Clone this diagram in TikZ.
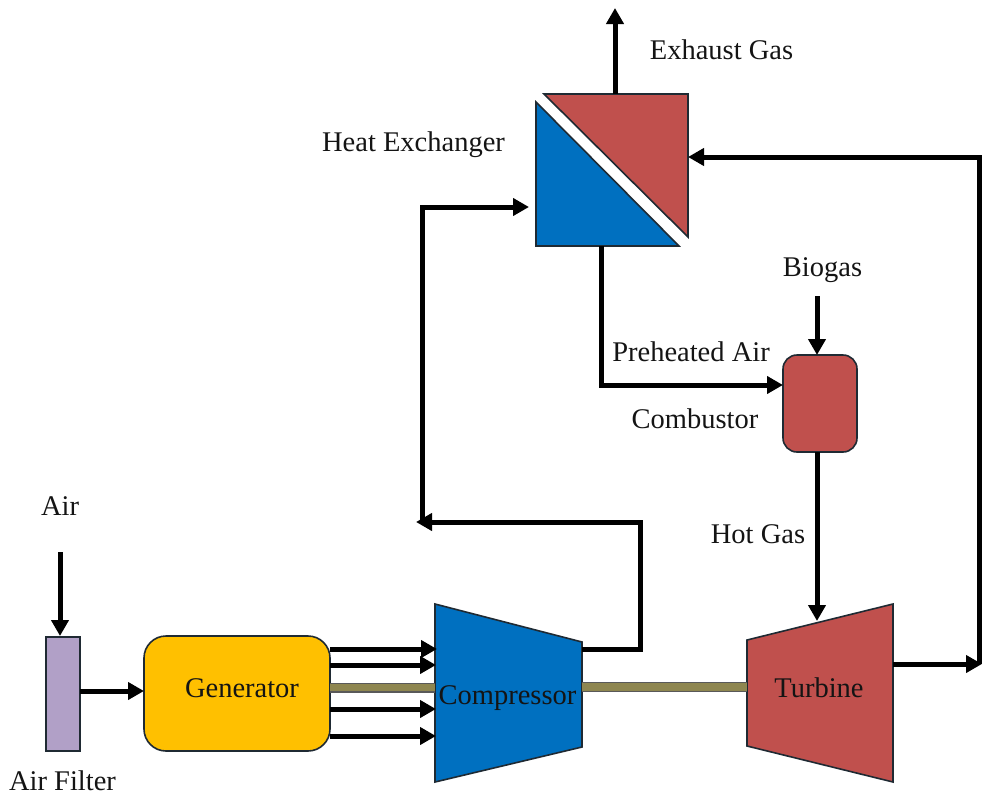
\documentclass[tikz,border=0pt]{standalone}
\usepackage{fontspec}
\setmainfont{Liberation Serif}
\usetikzlibrary{arrows.meta}
\definecolor{hxblue}{HTML}{0070C0}
\definecolor{hxred}{HTML}{C0504D}
\definecolor{filterpurple}{HTML}{B1A0C7}
\definecolor{genyellow}{HTML}{FFC000}
\definecolor{shaftolive}{HTML}{8E8650}
\definecolor{edgedark}{HTML}{1F2A33}
\tikzset{
  x=1pt,y=-1pt,
  label text/.style={font=\fontsize{28.5}{30}\selectfont,anchor=base,inner sep=0pt,text=black!92},
  body/.style={draw=edgedark,line width=1.6pt,line join=miter},
  box/.style={body,inner sep=0pt,outer sep=0pt,minimum width=#1},
  flow/.style={line width=5pt,line join=miter,-{Triangle[length=16pt,width=17pt]}},
  shaft/.style={draw=black!65,line width=10pt,postaction={draw=shaftolive,line width=7.6pt}}
}
\begin{document}
\begin{tikzpicture}
\useasboundingbox (0,0) rectangle (982,798);
\fill[white] (0,0) rectangle (982,798);
% shapes
\node[box=34pt,fill=filterpurple,minimum height=114pt] (filter) at (63,694) {};
\node[box=186pt,fill=genyellow,minimum height=115pt,rounded corners=22pt] (gen) at (237,693.5) {};
\node[box=74pt,fill=hxred,minimum height=97pt,rounded corners=14pt] (comb) at (820,403.5) {};
\draw[body,fill=hxblue] (435,604) -- (582,642) -- (582,747) -- (435,782) -- cycle;
\draw[body,fill=hxred] (747,640) -- (893,604) -- (893,782) -- (747,746) -- cycle;
\draw[body,fill=hxblue] (536,102) -- (536,246) -- (679,246) -- cycle;
\draw[body,fill=hxred] (544,94) -- (688,94) -- (688,237) -- cycle;
% named ends
\coordinate (airin) at (60,552);
\coordinate (filterin) at (60,636);
\coordinate (genIn) at (144,691);
\coordinate (compA) at (437,649);
\coordinate (compB) at (436,665);
\coordinate (compS) at (435,687.5);
\coordinate (compC) at (436,709);
\coordinate (compD) at (436,736);
\coordinate (compOut) at (582,649);
\coordinate (compR) at (582,687);
\coordinate (turbL) at (747,687);
\coordinate (bend1) at (640,522);
\coordinate (split) at (416,522);
\coordinate (riserB) at (422,522);
\coordinate (riserT) at (422,207);
\coordinate (hxIn) at (529,207);
\coordinate (hxBot) at (601,246);
\coordinate (hxBend) at (601,385);
\coordinate (hxTop) at (615,94);
\coordinate (exhaust) at (615,8);
\coordinate (bio) at (817,296);
\coordinate (turbIn) at (817,621);
\coordinate (turbOut) at (893,664);
\coordinate (rightEnd) at (982,664);
\coordinate (rightB) at (979.5,664);
\coordinate (rightT) at (979.5,157);
\coordinate (hxRight) at (688,157);
% shafts
\draw[shaft] (gen.east |- compS) -- (compS);
\draw[shaft] (compR) -- (turbL);
% connectors
\draw[flow] (airin) -- (filterin);
\draw[flow] (filter.east |- genIn) -- (genIn);
\draw[flow] (gen.east |- compA) -- (compA);
\draw[flow] (gen.east |- compB) -- (compB);
\draw[flow] (gen.east |- compC) -- (compC);
\draw[flow] (gen.east |- compD) -- (compD);
\draw[flow] (compOut) -| (bend1) -- (split);
\draw[flow] (riserB) -- (riserT) -- (hxIn);
\draw[flow] (hxBot) -- (hxBend) -- (hxBend -| comb.west);
\draw[flow] (hxTop) -- (exhaust);
\draw[flow] (bio) -- (bio |- comb.north);
\draw[flow] (bio |- comb.south) -- (turbIn);
\draw[flow] (turbOut) -- (rightEnd);
\draw[flow] (rightB) -- (rightT) -- (hxRight);
% labels
\node[label text] (lAir) at (60,515) {Air};
\node[label text] (lFilter) at (62.5,790) {Air Filter};
\node[label text] (lGen) at (242,697) {Generator};
\node[label text] (lComp) at (507.5,704) {Compressor};
\node[label text] (lTurb) at (819,697) {Turbine};
\node[label text] (lHot) at (758,543) {Hot Gas};
\node[label text] (lComb) at (695,428) {Combustor};
\node[label text] (lPre) at (691,361) {Preheated Air};
\node[label text] (lBio) at (822.5,276) {Biogas};
\node[label text] (lHx) at (413.5,151) {Heat Exchanger};
\node[label text] (lEx) at (721.5,59) {Exhaust Gas};
\end{tikzpicture}
\end{document}
